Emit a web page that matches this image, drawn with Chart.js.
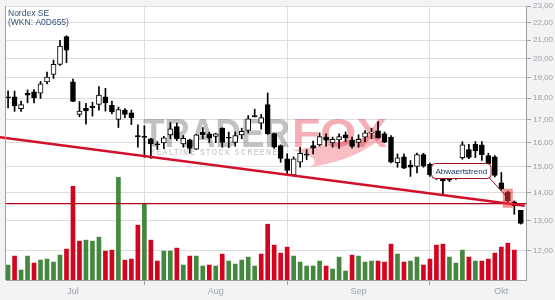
<!DOCTYPE html>
<html><head><meta charset="utf-8">
<script src="https://cdn.jsdelivr.net/npm/chart.js@4.4.0/dist/chart.umd.min.js"></script>
<style>html,body{margin:0;padding:0;background:#f3f3f3;}canvas{display:block;}</style>
</head><body>
<canvas id="c" width="555" height="300" style="width:555px;height:300px"></canvas>
<script>
const titleLine1 = 'Nordex SE';
const titleLine2 = '(WKN: A0D655)';
const monthTicks = [10, 32, 54, 76];
const monthLabels = ['Jul', 'Aug', 'Sep', 'Okt'];
const priceTicks = [12, 13, 14, 15, 16, 17, 18, 19, 20, 21, 22, 23];

const open = [18.06,18.06,17.51,18.23,18.31,18.24,18.79,19.17,19.69,21.20,
  18.80,17.24,17.52,17.61,17.70,18.07,17.66,17.01,17.44,17.31,
  16.30,16.26,16.16,15.94,15.98,16.33,16.69,15.94,16.11,15.72,
  16.45,16.37,16.26,16.62,16.22,16.00,16.33,16.52,17.19,16.84,
  17.70,16.38,15.87,15.32,14.68,15.18,15.50,15.87,15.90,16.23,
  15.98,16.11,16.33,16.09,16.00,16.23,16.40,16.50,16.37,16.23,
  15.16,15.40,15.07,15.01,15.49,15.10,14.66,14.58,14.56,14.55,
  15.37,15.70,15.92,15.90,15.45,15.40,14.37,14.02,13.66,13.36];
const high = [18.36,18.34,17.86,18.40,18.42,18.82,19.29,19.92,21.00,21.25,
  18.94,17.84,17.75,17.81,18.57,18.48,17.86,17.58,17.51,17.44,
  16.77,16.73,16.18,16.04,16.26,16.87,16.85,16.30,16.14,16.35,
  16.65,16.45,16.40,16.64,16.45,16.45,16.62,17.19,17.48,17.24,
  18.25,16.40,15.90,15.52,15.40,15.80,15.70,16.06,16.41,16.37,
  16.23,16.37,16.45,16.23,16.33,16.52,16.62,16.92,16.45,16.30,
  15.52,15.52,15.25,15.56,15.55,15.15,14.72,14.62,14.60,15.10,
  16.03,15.92,16.04,16.04,15.55,15.45,14.77,14.06,13.70,13.36];
const low = [17.54,17.38,17.38,17.78,17.78,17.99,18.69,18.97,19.64,19.79,
  17.83,17.13,16.80,17.16,17.44,17.39,17.26,16.65,17.09,16.78,
  15.80,15.38,15.34,15.71,15.74,16.16,16.08,15.80,15.55,15.70,
  16.16,16.00,15.99,15.80,15.78,15.84,16.16,16.41,17.12,16.58,
  16.35,15.75,15.18,14.72,14.66,14.98,15.28,15.52,15.85,15.84,
  15.80,15.75,16.04,15.76,15.80,16.04,16.16,16.18,15.99,15.15,
  14.98,14.92,14.62,14.76,14.98,14.62,14.50,13.90,14.42,14.50,
  15.30,15.33,15.37,15.25,15.08,14.60,14.09,13.62,13.22,12.88];
const close = [18.02,17.63,17.70,18.15,18.01,18.70,19.04,19.69,20.67,20.45,
  17.85,17.39,17.40,17.55,18.15,17.78,17.36,17.46,17.24,17.09,
  16.24,16.22,15.94,15.90,16.20,16.59,16.16,16.18,15.75,16.33,
  16.34,16.20,16.37,16.00,16.18,16.30,16.48,17.04,17.14,17.09,
  16.38,15.80,15.34,14.85,15.32,15.55,15.47,15.76,16.25,16.10,
  16.14,16.25,16.20,15.83,16.14,16.42,16.42,16.20,16.01,15.18,
  15.36,14.94,14.98,15.49,15.02,14.68,14.55,14.45,14.47,15.05,
  15.90,15.38,15.65,15.49,15.12,14.66,14.14,13.70,13.52,12.90];
// volume in thousand shares
const volume = [375,600,250,600,425,500,525,450,625,775,
  2350,975,1000,975,1075,725,750,2575,500,525,
  1375,1925,1000,475,725,725,800,375,600,600,
  350,375,350,650,475,400,500,575,350,650,
  1400,875,675,825,600,450,350,350,475,350,
  275,575,225,625,600,450,475,475,450,900,
  650,450,475,575,375,525,875,900,575,425,
  750,575,475,475,525,675,825,925,750,null];
const volumeUp = [1,0,1,1,0,1,1,1,1,0, 0,0,1,1,1,0,0,1,0,0,
  0,1,0,0,1,1,0,1,0,1, 1,0,1,0,1,1,1,1,1,0,
  0,0,0,0,1,1,1,1,1,0, 1,1,1,0,1,1,1,0,0,0,
  1,0,1,1,0,0,0,0,1,1, 1,0,1,0,0,0,0,0,0,0];
const trendLine = [[-1.25, 16.22], [79.6, 13.52]];
const supportLevel = 13.60;
const highlightIndex = 77;
const highlightRange = [13.45, 14.15];
const trendLabel = 'Abwaertstrend';
const trendLabelAt = [69.7, 14.84];
const pointerEnd = [77, 13.80];
const watermarkText = ['TRADER', 'FOX', 'REALTIME STOCK SCREENER'];

const idx = open.map((_, i) => i);
const X_MIN = -0.32, X_MAX = 79.8;

const wickData = idx.map(i => ({x: i, y: [low[i], high[i]]}));
const bodyData = idx.map(i => ({x: i, y: [open[i], close[i]]}));
const bodyFill = idx.map(i => close[i] >= open[i] ? '#ffffff' : '#000000');
const volData = idx.filter(i => volume[i] != null).map(i => ({x: i, y: volume[i]}));
const volColors = idx.filter(i => volume[i] != null).map(i => volumeUp[i] ? '#44873f' : '#d3041f');

const chrome = {
  id: 'chrome',
  beforeDraw(chart) {
    const {ctx, chartArea: a} = chart;
    ctx.save();
    ctx.fillStyle = '#f3f3f3';
    ctx.fillRect(0, 0, chart.width, chart.height);
    ctx.fillStyle = '#ffffff';
    ctx.fillRect(a.left, a.top, a.right - a.left, a.bottom - a.top);
    ctx.restore();
  },
  beforeDatasetsDraw(chart) {
    const {ctx, chartArea: a} = chart;
    ctx.save();
    // watermark
    ctx.textBaseline = 'alphabetic';
    ctx.font = 'bold 40px "Liberation Sans"';
    let w = ctx.measureText(watermarkText[0]).width;
    ctx.save();
    ctx.translate(143, 147);
    ctx.scale(147 / w, 1);
    ctx.fillStyle = 'rgba(95,95,95,0.38)';
    ctx.fillText(watermarkText[0], 0, 0);
    ctx.restore();
    w = ctx.measureText(watermarkText[1]).width;
    ctx.save();
    ctx.translate(292, 147);
    ctx.scale(95 / w, 1);
    ctx.fillStyle = 'rgba(232,40,60,0.38)';
    ctx.fillText(watermarkText[1], 0, 0);
    ctx.restore();
    // swoosh
    ctx.fillStyle = 'rgba(232,40,60,0.30)';
    ctx.beginPath();
    ctx.moveTo(292, 150);
    ctx.quadraticCurveTo(330, 145, 388, 132);
    ctx.quadraticCurveTo(360, 160, 310, 167);
    ctx.quadraticCurveTo(325, 158, 292, 150);
    ctx.fill();
    ctx.font = 'bold 9px "Liberation Sans"';
    ctx.letterSpacing = '2px';
    w = ctx.measureText(watermarkText[2]).width;
    ctx.save();
    ctx.translate(150, 155);
    ctx.scale(135 / w, 1);
    ctx.fillStyle = 'rgba(110,110,110,0.35)';
    ctx.fillText(watermarkText[2], 0, 0);
    ctx.restore();
    ctx.restore();
  },
  afterDatasetsDraw(chart) {
    const {ctx, chartArea: a, scales} = chart;
    const x = scales.x, y = scales.y;
    ctx.save();
    // left border
    ctx.strokeStyle = '#a0a0a0';
    ctx.lineWidth = 1;
    ctx.beginPath();
    ctx.moveTo(a.left - 0.5, a.top);
    ctx.lineTo(a.left - 0.5, a.bottom);
    ctx.stroke();
    // highlight box
    const hx = x.getPixelForValue(highlightIndex);
    const hy1 = y.getPixelForValue(highlightRange[1]);
    const hy0 = y.getPixelForValue(highlightRange[0]);
    ctx.fillStyle = 'rgba(238,60,60,0.55)';
    ctx.fillRect(hx - 5, hy1, 10, hy0 - hy1);
    // label
    const lx = x.getPixelForValue(trendLabelAt[0]);
    const ly = y.getPixelForValue(trendLabelAt[1]);
    ctx.font = '8px "Liberation Sans"';
    const tw = ctx.measureText(trendLabel).width;
    const bw = tw + 8, bh = 15;
    const bx = Math.round(lx - bw / 2) + 0.5, by = Math.round(ly - bh / 2) + 0.5;
    // pointer
    ctx.strokeStyle = '#a3101e';
    ctx.lineWidth = 1;
    ctx.beginPath();
    ctx.moveTo(bx + bw - 2, by + bh - 1);
    ctx.lineTo(x.getPixelForValue(pointerEnd[0]), y.getPixelForValue(pointerEnd[1]));
    ctx.stroke();
    ctx.fillStyle = '#ffffff';
    ctx.beginPath();
    ctx.roundRect(bx, by, bw, bh, 4);
    ctx.fill();
    ctx.stroke();
    ctx.fillStyle = '#1c3566';
    ctx.textBaseline = 'middle';
    ctx.textAlign = 'center';
    ctx.fillText(trendLabel, bx + bw / 2, by + bh / 2 + 0.5);
    // title
    ctx.textAlign = 'left';
    ctx.textBaseline = 'alphabetic';
    ctx.fillStyle = '#34507a';
    ctx.font = '8.5px "Liberation Sans"';
    ctx.fillText(titleLine1, 8, 15.5);
    ctx.fillText(titleLine2, 8, 25);
    ctx.restore();
  }
};

new Chart(document.getElementById('c'), {
  type: 'bar',
  data: {
    datasets: [
      {type: 'line', data: trendLine.map(p => ({x: p[0], y: p[1]})), borderColor: '#d3102b', borderWidth: 2.5,
        pointRadius: 0, clip: false, order: 1, yAxisID: 'y'},
      {type: 'line', data: [{x: X_MIN, y: supportLevel}, {x: X_MAX, y: supportLevel}], borderColor: '#b0001a',
        borderWidth: 1.3, pointRadius: 0, order: 2, yAxisID: 'y'},
      {data: bodyData, backgroundColor: bodyFill, borderColor: '#000', borderWidth: 1, borderSkipped: false,
        barThickness: 5, minBarLength: 1, grouped: false, order: 3, yAxisID: 'y'},
      {data: wickData, backgroundColor: '#000', borderWidth: 0, barThickness: 1, grouped: false, order: 4, yAxisID: 'y'},
      {data: volData, backgroundColor: volColors, borderWidth: 0, barThickness: 4, grouped: false, order: 5, yAxisID: 'yv'}
    ]
  },
  options: {
    responsive: false,
    animation: false,
    events: [],
    layout: {padding: {left: 6, top: 5, right: 0, bottom: 0}},
    plugins: {legend: {display: false}, tooltip: {enabled: false}},
    scales: {
      x: {
        type: 'linear', min: X_MIN, max: X_MAX, offset: false,
        afterBuildTicks: s => { s.ticks = monthTicks.map(v => ({value: v})); },
        afterFit: s => { s.height = 20; },
        grid: {color: '#dddddd', tickColor: '#a0a0a0', tickLength: 5, lineWidth: 1},
        border: {color: '#a0a0a0', width: 1},
        ticks: {
          autoSkip: false, maxRotation: 0, padding: 1, color: '#98a1ae',
          font: {family: '"Liberation Sans"', size: 9},
          callback: v => monthLabels[monthTicks.indexOf(v)]
        }
      },
      y: {
        type: 'logarithmic', position: 'right', min: 11.1, max: 23,
        afterBuildTicks: s => { s.ticks = priceTicks.map(v => ({value: v})); },
        afterFit: s => { s.width = 29; },
        grid: {color: '#dddddd', tickColor: '#a0a0a0', tickLength: 5, lineWidth: 1},
        border: {color: '#a0a0a0', width: 1},
        ticks: {
          padding: 2, color: '#98a1ae',
          font: {family: '"Liberation Sans"', size: 8, lineHeight: 1},
          callback: v => Number(v).toFixed(2).replace('.', ',')
        }
      },
      yv: {display: false, min: 0, max: 6875}
    }
  },
  plugins: [chrome]
});
</script>
</body></html>
